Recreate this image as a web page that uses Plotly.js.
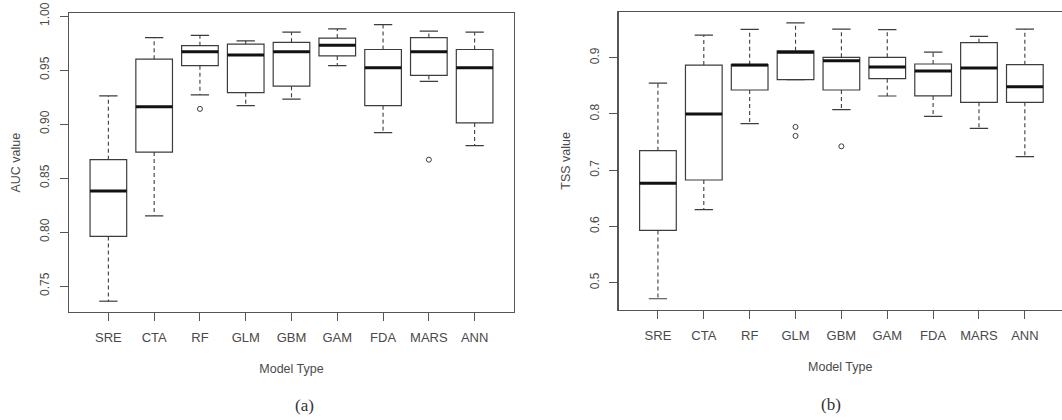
<!DOCTYPE html>
<html>
<head>
<meta charset="utf-8">
<script src="https://cdn.plot.ly/plotly-3.0.1.min.js"></script>
<style>html,body{margin:0;padding:0;background:#fff;}#chart{width:1062px;height:420px;}</style>
</head>
<body>
<div id="chart"></div>
<script>
// Categories
const models = ["SRE", "CTA", "RF", "GLM", "GBM", "GAM", "FDA", "MARS", "ANN"];

// Panel (a): AUC
const aucLow  = [0.736, 0.815, 0.927, 0.917, 0.923, 0.954, 0.892, 0.9395, 0.880];
const aucQ1   = [0.796, 0.874, 0.954, 0.929, 0.935, 0.963, 0.917, 0.945, 0.901];
const aucMed  = [0.838, 0.916, 0.967, 0.964, 0.967, 0.973, 0.952, 0.967, 0.952];
const aucQ3   = [0.867, 0.960, 0.9725, 0.974, 0.9756, 0.9796, 0.969, 0.980, 0.969];
const aucHigh = [0.926, 0.980, 0.982, 0.977, 0.985, 0.988, 0.992, 0.986, 0.985];
const aucOutCat = ["RF", "MARS"];
const aucOutVal = [0.914, 0.867];

// Panel (b): TSS
const tssLow  = [0.4715, 0.630, 0.7827, 0.861, 0.8076, 0.8319, 0.7958, 0.7745, 0.724];
const tssQ1   = [0.593, 0.6826, 0.8426, 0.861, 0.8426, 0.8627, 0.832, 0.8207, 0.8207];
const tssMed  = [0.677, 0.800, 0.887, 0.9096, 0.8947, 0.8835, 0.8764, 0.8817, 0.8484];
const tssQ3   = [0.7347, 0.887, 0.8876, 0.9124, 0.9007, 0.9007, 0.8888, 0.9267, 0.8876];
const tssHigh = [0.855, 0.940, 0.9505, 0.962, 0.951, 0.9498, 0.910, 0.938, 0.951];
const tssOutCat = ["GLM", "GLM", "GBM"];
const tssOutVal = [0.777, 0.761, 0.7425];

// Tick labels
const aucTicks = [0.75, 0.80, 0.85, 0.90, 0.95, 1.00];
const aucTickText = ["0.75", "0.80", "0.85", "0.90", "0.95", "1.00"];
const tssTicks = [0.5, 0.6, 0.7, 0.8, 0.9];
const tssTickText = ["0.5", "0.6", "0.7", "0.8", "0.9"];

const BOXW = 0.8, CAPW = 0.4;
const lineCol = "#3c3c3c";
const textCol = "#4a4a4a";

function panelTraces(low, q1, med, q3, high, outCat, outVal, xa, ya) {
  const idx = models.map((_, i) => i);
  const traces = [];
  traces.push({
    type: "box", x: idx, q1: q1, median: med, q3: q3,
    lowerfence: q1, upperfence: q3, width: BOXW,
    fillcolor: "#ffffff", line: {color: lineCol, width: 1.2},
    whiskerwidth: 0, boxpoints: false, hoverinfo: "skip",
    xaxis: xa, yaxis: ya, showlegend: false
  });
  const wx = [], wy = [], cx = [], cy = [], mx = [], my = [];
  idx.forEach(i => {
    wx.push(i, i, null, i, i, null);
    wy.push(q3[i], high[i], null, q1[i], low[i], null);
    cx.push(i - CAPW / 2, i + CAPW / 2, null, i - CAPW / 2, i + CAPW / 2, null);
    cy.push(high[i], high[i], null, low[i], low[i], null);
    mx.push(i - BOXW / 2, i + BOXW / 2, null);
    my.push(med[i], med[i], null);
  });
  traces.push({type: "scatter", mode: "lines", x: wx, y: wy, line: {color: lineCol, width: 1.1, dash: "4px,3px"}, xaxis: xa, yaxis: ya, showlegend: false, hoverinfo: "skip"});
  traces.push({type: "scatter", mode: "lines", x: cx, y: cy, line: {color: lineCol, width: 1.2}, xaxis: xa, yaxis: ya, showlegend: false, hoverinfo: "skip"});
  traces.push({type: "scatter", mode: "lines", x: mx, y: my, line: {color: "#111111", width: 3}, xaxis: xa, yaxis: ya, showlegend: false, hoverinfo: "skip"});
  traces.push({type: "scatter", mode: "markers", x: outCat.map(c => models.indexOf(c)), y: outVal,
    marker: {symbol: "circle-open", size: 5, color: lineCol, line: {width: 1}}, xaxis: xa, yaxis: ya, showlegend: false});
  return traces;
}

const data = [].concat(
  panelTraces(aucLow, aucQ1, aucMed, aucQ3, aucHigh, aucOutCat, aucOutVal, "x", "y"),
  panelTraces(tssLow, tssQ1, tssMed, tssQ3, tssHigh, tssOutCat, tssOutVal, "x2", "y2")
);

const sans = "Liberation Sans, Arial, sans-serif";
const xTickFont = {family: sans, size: 13, color: textCol};
const yTickFont = {family: sans, size: 12, color: textCol};
const titleFont = {family: sans, size: 12.5, color: textCol};

function xAxis(domain, range) {
  return {
    domain: domain, range: range, tickmode: "array",
    tickvals: models.map((_, i) => i), ticktext: models,
    showline: true, mirror: true, linecolor: "#555555", linewidth: 1.2,
    ticks: "outside", ticklen: 8, tickcolor: "#555555", tickwidth: 1,
    showgrid: false, zeroline: false, tickfont: xTickFont, ticklabelstandoff: 5,
    title: {text: "Model Type", font: titleFont, standoff: 20}, fixedrange: true
  };
}
function yAxis(domain, range, tv, tt, title, anchor) {
  return {
    domain: domain, range: range, tickmode: "array", tickvals: tv, ticktext: tt,
    tickangle: -90, showline: true, mirror: true, linecolor: "#555555", linewidth: 1.2,
    ticks: "outside", ticklen: 8, tickcolor: "#555555", tickwidth: 1,
    showgrid: false, zeroline: false, tickfont: yTickFont, ticklabelstandoff: 6,
    title: {text: title, font: titleFont, standoff: 14}, anchor: anchor, fixedrange: true
  };
}

const layout = {
  width: 1062, height: 420,
  margin: {l: 0, r: 0, t: 0, b: 0},
  paper_bgcolor: "#ffffff", plot_bgcolor: "#ffffff",
  showlegend: false,
  xaxis: Object.assign(xAxis([69 / 1062, 514 / 1062], [-0.86, 8.86]), {anchor: "y"}),
  yaxis: yAxis([1 - 312 / 420, 1 - 13.3 / 420], [0.726, 1.0025], aucTicks, aucTickText, "AUC value", "x"),
  xaxis2: Object.assign(xAxis([618.5 / 1062, 1.0], [-0.86, 8.81]), {anchor: "y2"}),
  yaxis2: yAxis([1 - 310 / 420, 1 - 11.7 / 420], [0.4515, 0.9818], tssTicks, tssTickText, "TSS value", "x2"),
  annotations: [
    {text: "(a)", xref: "paper", yref: "paper", x: 293 / 1062, y: 1 - 405 / 420, yanchor: "middle", showarrow: false,
     font: {family: "Liberation Serif, Times New Roman, serif", size: 17, color: "#333333"}},
    {text: "(b)", xref: "paper", yref: "paper", x: 843 / 1062, y: 1 - 404 / 420, yanchor: "middle", showarrow: false,
     font: {family: "Liberation Serif, Times New Roman, serif", size: 17, color: "#333333"}}
  ]
};

Plotly.newPlot("chart", data, layout, {displayModeBar: false, staticPlot: true});
</script>
</body>
</html>
